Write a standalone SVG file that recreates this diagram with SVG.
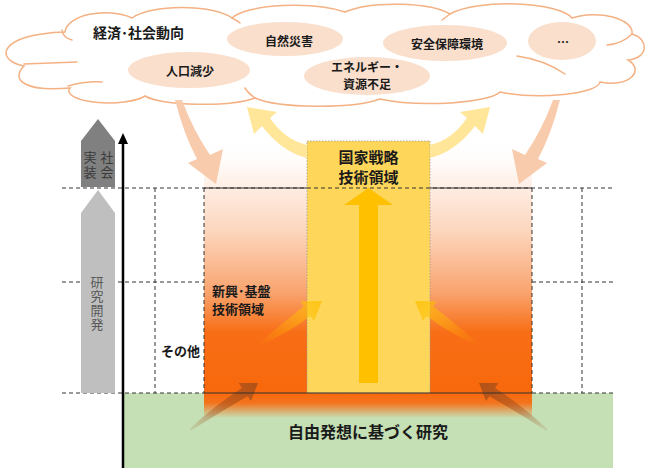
<svg xmlns="http://www.w3.org/2000/svg" width="646" height="468" viewBox="0 0 646 468">
<style>
.jp{font-family:"Noto Sans CJK JP","Noto Sans",sans-serif;}
.b{font-weight:bold;fill:#1a1a1a;}
.cl{font-size:12px;text-anchor:middle;dominant-baseline:central;}
.ell{fill:#f9dfcc;}
.cloud{fill:#ffffff;stroke:#f4b183;stroke-width:1.5;}
.crease{fill:none;stroke:#f4b183;stroke-width:1.5;stroke-linecap:round;}
.dash{stroke:#333;stroke-width:1;stroke-dasharray:4,3;fill:none;}
.solid{stroke:#333;stroke-width:1.2;fill:none;}
.vt{font-size:13px;text-anchor:middle;writing-mode:vertical-rl;}
</style>
<defs>
<linearGradient id="orangeG" gradientUnits="userSpaceOnUse" x1="0" y1="140" x2="0" y2="393">
<stop offset="0" stop-color="#ffffff" stop-opacity="0"/>
<stop offset="0.14" stop-color="#fff4ee"/>
<stop offset="0.36" stop-color="#fcd6bd"/>
<stop offset="0.6" stop-color="#f9a46f"/>
<stop offset="0.76" stop-color="#f86e16"/>
<stop offset="1" stop-color="#f8680c"/>
</linearGradient>
<linearGradient id="bandG" gradientUnits="userSpaceOnUse" x1="0" y1="393" x2="0" y2="418">
<stop offset="0" stop-color="#f8680c"/>
<stop offset="0.4" stop-color="#f8680c" stop-opacity="0.9"/>
<stop offset="1" stop-color="#f8680c" stop-opacity="0"/>
</linearGradient>
<linearGradient id="brL" gradientUnits="userSpaceOnUse" x1="190" y1="430" x2="258" y2="383">
<stop offset="0" stop-color="#9c4a1c" stop-opacity="0.1"/>
<stop offset="1" stop-color="#a8501a" stop-opacity="0.9"/>
</linearGradient>
<linearGradient id="brR" gradientUnits="userSpaceOnUse" x1="547" y1="430" x2="479" y2="383">
<stop offset="0" stop-color="#9c4a1c" stop-opacity="0.1"/>
<stop offset="1" stop-color="#a8501a" stop-opacity="0.9"/>
</linearGradient>
<linearGradient id="ylL" gradientUnits="userSpaceOnUse" x1="258" y1="345" x2="322" y2="301">
<stop offset="0" stop-color="#ffc000" stop-opacity="0"/>
<stop offset="1" stop-color="#ffc000" stop-opacity="0.75"/>
</linearGradient>
<linearGradient id="ylR" gradientUnits="userSpaceOnUse" x1="479" y1="345" x2="415" y2="301">
<stop offset="0" stop-color="#ffc000" stop-opacity="0"/>
<stop offset="1" stop-color="#ffc000" stop-opacity="0.75"/>
</linearGradient>
</defs>

<!-- background regions -->
<g id="free-research-area">
<rect x="122" y="393" width="491" height="75" fill="#c5e0b4"/>
</g>
<g id="emerging-area">
<rect x="204" y="140" width="328" height="253" fill="url(#orangeG)"/>
<rect x="204" y="393" width="328" height="25" fill="url(#bandG)"/>
</g>
<g id="national-strategy">
<rect x="307" y="141" width="123" height="252" fill="#fdd65a" stroke="#9a9a9a" stroke-width="0.8" stroke-dasharray="1.5,1.5"/>
<path d="M359,383 L359,205 L344,205 L368.5,188 L393,205 L378,205 L378,383 Z" fill="#ffc000"/>
</g>

<!-- cloud -->
<g id="cloud">
<path class="cloud" d="M65,32 A40,20 0 0 1 132,18 A55,18 0 0 1 232,18 A65,18 0 0 1 345,12 A60,17 0 0 1 450,14 A65,18 0 0 1 572,18 A38,18 0 0 1 632,34 C648,38 650,58 628,60 C645,70 630,88 600,82 A60,14 0 0 1 500,92 A70,14 0 0 1 380,99 A70,14 0 0 1 255,98 A60,12 0 0 1 145,96 A40,12 0 0 1 70,88 C25,92 10,80 24,66 C-6,60 -2,34 65,32 Z"/>
<path class="crease" d="M62,30 Q63,38 72,40"/>
<path class="crease" d="M24,64 Q50,63 77,62"/>
<path class="crease" d="M68,86 Q86,81 102,82"/>
<path class="crease" d="M232,18 Q236,20 240,23"/>
<path class="crease" d="M450,14 Q446,17 442,20"/>
<path class="crease" d="M632,34 Q622,44 607,45"/>
<path class="crease" d="M517,56 Q545,60 565,74"/>
<path class="crease" d="M255,98 Q248,93 245,88"/>
<text class="jp b" x="93" y="38" font-size="14">経済･社会動向</text>
</g>
<g id="node-shizen">
<ellipse class="ell" cx="285" cy="39" rx="58" ry="17"/>
<text class="jp b cl" x="289" y="40">自然災害</text>
</g>
<g id="node-anzen">
<ellipse class="ell" cx="445" cy="43" rx="62" ry="18"/>
<text class="jp b cl" x="447" y="43">安全保障環境</text>
</g>
<g id="node-etc">
<ellipse class="ell" cx="562" cy="41" rx="34" ry="19"/>
<text class="jp b cl" x="563" y="41">…</text>
</g>
<g id="node-jinko">
<ellipse class="ell" cx="189" cy="70" rx="61" ry="18"/>
<text class="jp b cl" x="190" y="70">人口減少</text>
</g>
<g id="node-energy">
<ellipse class="ell" cx="367" cy="76" rx="63" ry="19"/>
<text class="jp b" x="367" y="72" font-size="12" text-anchor="middle"><tspan x="367" y="72">エネルギー・</tspan><tspan x="367" y="89">資源不足</tspan></text>
</g>

<!-- connectors -->
<g id="connectors">
<path d="M175,100 Q184,135 197,159 L188,163 L216,184 L223,149 L210,155 Q193,130 182,100 Z" fill="#f8cbad"/>
<path d="M560,100 Q551,135 538,159 L547,163 L519,184 L512,149 L525,155 Q542,130 553,100 Z" fill="#f8cbad"/>
<path d="M307,145 Q285,140 270,118 L277,112 L247,107 L254,134 L262,126 Q282,152 307,158 Z" fill="#ffe699"/>
<path d="M430,145 Q452,140 467,118 L460,112 L490,107 L483,134 L475,126 Q455,152 430,158 Z" fill="#ffe699"/>
<path d="M257.4,344.2 Q280,325 303.8,306.3 L300.4,301.3 L322,301 L314.0,321.1 L310.6,316.1 Q285,335 258.6,345.8 Z" fill="url(#ylL)"/>
<path d="M479.6,344.2 Q457,325 433.2,306.3 L436.6,301.3 L415,301 L423.0,321.1 L426.4,316.1 Q452,335 478.4,345.8 Z" fill="url(#ylR)"/>
<path d="M189.4,429.2 Q215,405 242.0,388.0 L238.6,383.1 L258,383 L251.0,401.1 L247.6,396.2 Q220,412 190.6,430.8 Z" fill="url(#brL)"/>
<path d="M547.6,429.2 Q522,405 495.0,388.0 L498.4,383.1 L479,383 L486.0,401.1 L489.4,396.2 Q517,412 546.4,430.8 Z" fill="url(#brR)"/>
</g>

<!-- grid lines -->
<g id="guides">
<line class="dash" x1="62" y1="188" x2="613" y2="188"/>
<line class="solid" x1="204" y1="188" x2="307" y2="188"/>
<line class="solid" x1="430" y1="188" x2="532" y2="188"/>
<line class="dash" x1="62" y1="282" x2="204" y2="282"/>
<line class="dash" x1="532" y1="282" x2="613" y2="282"/>
<line class="dash" x1="62" y1="393" x2="204" y2="393"/>
<line class="solid" x1="204" y1="393" x2="532" y2="393"/>
<line class="dash" x1="532" y1="393" x2="613" y2="393"/>
<line class="dash" x1="155" y1="188" x2="155" y2="393"/>
<line class="dash" x1="204" y1="188" x2="204" y2="393"/>
<line class="dash" x1="532" y1="188" x2="532" y2="393"/>
<line class="dash" x1="582" y1="188" x2="582" y2="393"/>
</g>

<!-- axis and stage arrows -->
<g id="axis">
<line x1="123" y1="468" x2="123" y2="140" stroke="#000" stroke-width="2.5"/>
<path d="M118,144 L123,133 L128,144 Z" fill="#000"/>
</g>
<g id="stage-social">
<path d="M81,187 L81,141 L98,119 L115,141 L115,187 Z" fill="#808080"/>
<text class="jp vt" x="107" y="166" letter-spacing="2" fill="#3a3a3a">社会</text>
<text class="jp vt" x="90" y="166" letter-spacing="2" fill="#3a3a3a">実装</text>
</g>
<g id="stage-rd">
<path d="M81,393 L81,213 L98,190 L115,213 L115,393 Z" fill="#bfbfbf"/>
<text class="jp vt" x="97" y="304" letter-spacing="1" fill="#595959">研究開発</text>
</g>

<!-- labels -->
<g id="label-national">
<text class="jp b" x="368.5" y="163" font-size="15" text-anchor="middle"><tspan x="368.5" y="163">国家戦略</tspan><tspan x="368.5" y="183">技術領域</tspan></text>
</g>
<g id="label-emerging">
<text class="jp b" x="212" y="296" font-size="13"><tspan x="212" y="296">新興･基盤</tspan><tspan x="212" y="314">技術領域</tspan></text>
</g>
<g id="label-other">
<text class="jp b" x="161" y="356" font-size="13">その他</text>
</g>
<g id="label-free">
<text class="jp b" x="368" y="438" font-size="16" text-anchor="middle">自由発想に基づく研究</text>
</g>
</svg>
